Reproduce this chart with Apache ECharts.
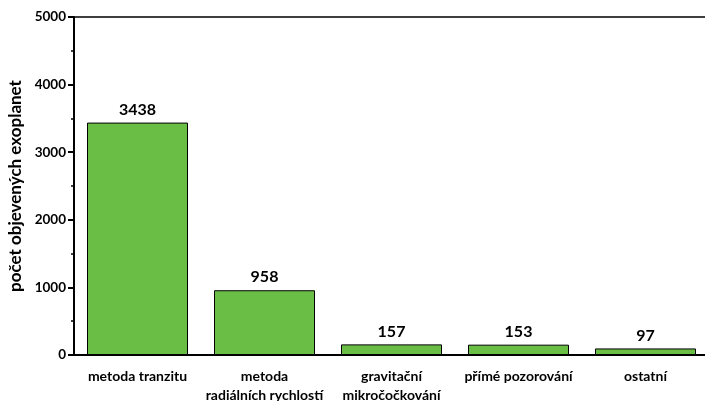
<!DOCTYPE html>
<html>
<head>
<meta charset="utf-8">
<script src="https://cdn.jsdelivr.net/npm/echarts@6/dist/echarts.min.js"></script>
<style>
  html, body { margin: 0; padding: 0; background: #fff; }
  #chart { width: 705px; height: 401px; }
</style>
</head>
<body>
<div id="chart"></div>
<script>
// Počet objevených exoplanet podle metody detekce
const categories = [
  'metoda tranzitu',
  'metoda\nradiálních rychlostí',
  'gravitační\nmikročočkování',
  'přímé pozorování',
  'ostatní'
];
const counts = [3438, 958, 157, 153, 97];
const yTicks = [0, 1000, 2000, 3000, 4000, 5000];

const FONT = 'Lato';
const chart = echarts.init(document.getElementById('chart'), null, { renderer: 'canvas' });

chart.setOption({
  animation: false,
  textStyle: { fontFamily: FONT },
  grid: {
    left: 74, top: 17, width: 635, bottom: 46,
    containLabel: false,
    outerBoundsMode: 'none',
    show: true, borderColor: '#000', borderWidth: 1.5, backgroundColor: 'transparent'
  },
  xAxis: [
    {
      type: 'category',
      data: categories,
      axisLine: { lineStyle: { color: '#000', width: 2 } },
      axisTick: { alignWithLabel: true, length: 9, lineStyle: { color: '#000', width: 2 } },
      axisLabel: {
        color: '#000', fontFamily: FONT, fontWeight: 'bold', fontSize: 14,
        lineHeight: 19, margin: 12, interval: 0
      }
    },
    {
      // short ticks on category boundaries
      type: 'category',
      data: categories,
      position: 'bottom',
      axisLine: { show: false },
      axisTick: { length: 3, lineStyle: { color: '#000', width: 1.5 } },
      axisLabel: { show: false }
    }
  ],
  yAxis: {
    type: 'value',
    min: 0, max: 5000, interval: 1000,
    name: 'počet objevených exoplanet',
    nameLocation: 'middle',
    nameGap: 48,
    nameTextStyle: { color: '#000', fontFamily: FONT, fontWeight: 'bold', fontSize: 17 },
    splitLine: { show: false },
    axisLine: { show: true, lineStyle: { color: '#000', width: 2 } },
    axisTick: { show: true, length: 6, lineStyle: { color: '#000', width: 2 } },
    minorTick: { show: true, splitNumber: 2, length: 3, lineStyle: { color: '#000', width: 1.5 } },
    axisLabel: {
      color: '#000', fontFamily: FONT, fontWeight: 'bold', fontSize: 13.5, margin: 8,
      formatter: v => yTicks.includes(v) ? String(v) : ''
    }
  },
  series: [{
    type: 'bar',
    data: counts,
    barWidth: 101,
    itemStyle: { color: '#6abd45', borderColor: '#000', borderWidth: 1 },
    label: {
      show: true, position: 'top', distance: 5,
      color: '#000', fontFamily: FONT, fontWeight: 'bold', fontSize: 16
    }
  }]
});
</script>
</body>
</html>
